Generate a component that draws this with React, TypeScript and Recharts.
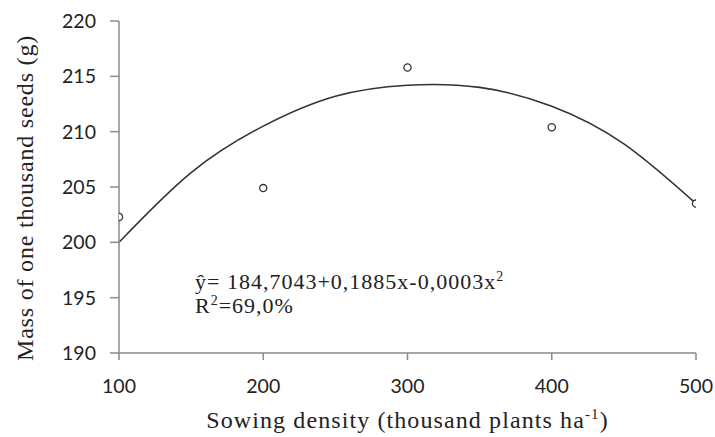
import React from "react";
import { ComposedChart, Line, Scatter, XAxis, YAxis, Label } from "recharts";

// observed means (thousand plants ha-1 -> g)
const densities = [100, 200, 300, 400, 500];
const seedMass = [202.3, 204.9, 215.8, 210.4, 203.5];

// fitted curve
const curveDensities = [100, 150, 200, 250, 300, 350, 400, 450, 500];
const curveMass = [200.0, 206.3, 210.5, 213.2, 214.2, 214.0, 212.3, 208.9, 203.5];

const xTicks = [100, 200, 300, 400, 500];
const yTicks = [190, 195, 200, 205, 210, 215, 220];

const points = densities.map((d, i) => ({ density: d, mass: seedMass[i] }));
const curve = curveDensities.map((d, i) => ({ density: d, mass: curveMass[i] }));

const AXIS = "#8a8a8a";
const INK = "#222";
const SERIF = "'Liberation Serif', 'Times New Roman', serif";
const TICK_FONT = "Lato, 'Open Sans', sans-serif";

const tickStyle = { fontFamily: TICK_FONT, fontSize: 19.5, fill: INK };

function XTitle(props: any) {
  const { x, y, width } = props.viewBox;
  return (
    <text
      x={x + width / 2}
      y={y + 75}
      textAnchor="middle"
      fontFamily={SERIF}
      fontSize={24}
      letterSpacing={1.1}
      fill={INK}
    >
      Sowing density (thousand plants ha
      <tspan dy={-9} fontSize={15}>-1</tspan>
      <tspan dy={9}>)</tspan>
    </text>
  );
}

function YTitle() {
  const cx = 33;
  const cy = 198;
  return (
    <text
      x={cx}
      y={cy}
      transform={`rotate(-90, ${cx}, ${cy})`}
      textAnchor="middle"
      fontFamily={SERIF}
      fontSize={24}
      letterSpacing={0.8}
      fill={INK}
    >
      Mass of one thousand seeds (g)
    </text>
  );
}

function Ring(props: any) {
  const { cx, cy } = props;
  return <circle cx={cx} cy={cy} r={3.6} fill="#fff" stroke="#333" strokeWidth={1.3} />;
}

const supStyle = { fontSize: 14, verticalAlign: 8, lineHeight: 0 };

export default function App() {
  return (
    <div style={{ position: "absolute", left: 0, top: 0, width: 715, height: 437, background: "#fff" }}>
      <ComposedChart width={715} height={437} margin={{ top: 21, right: 19, bottom: 0, left: 19 }}>
        <XAxis
          type="number"
          dataKey="density"
          domain={[100, 500]}
          ticks={xTicks}
          height={84}
          tickSize={7}
          tickMargin={19}
          stroke={AXIS}
          strokeWidth={1.5}
          tick={tickStyle}
          allowDataOverflow
        >
          <Label content={<XTitle />} />
        </XAxis>
        <YAxis
          type="number"
          domain={[190, 220]}
          ticks={yTicks}
          width={100}
          tickSize={9}
          tickMargin={14}
          stroke={AXIS}
          strokeWidth={1.5}
          tick={tickStyle}
          allowDataOverflow
        >
          <Label content={<YTitle />} />
        </YAxis>
        <Line
          data={curve}
          dataKey="mass"
          type="natural"
          stroke="#333"
          strokeWidth={1.6}
          dot={false}
          activeDot={false}
          isAnimationActive={false}
        />
        <Scatter data={points} dataKey="mass" shape={<Ring />} isAnimationActive={false} />
      </ComposedChart>
      <div
        style={{
          position: "absolute",
          left: 195,
          top: 270,
          fontFamily: SERIF,
          fontSize: 22,
          letterSpacing: 1,
          lineHeight: "24px",
          color: INK,
          whiteSpace: "nowrap",
        }}
      >
        <div>
          ŷ= 184,7043+0,1885x-0,0003x<sup style={supStyle}>2</sup>
        </div>
        <div>
          R<sup style={supStyle}>2</sup>=69,0%
        </div>
      </div>
    </div>
  );
}
